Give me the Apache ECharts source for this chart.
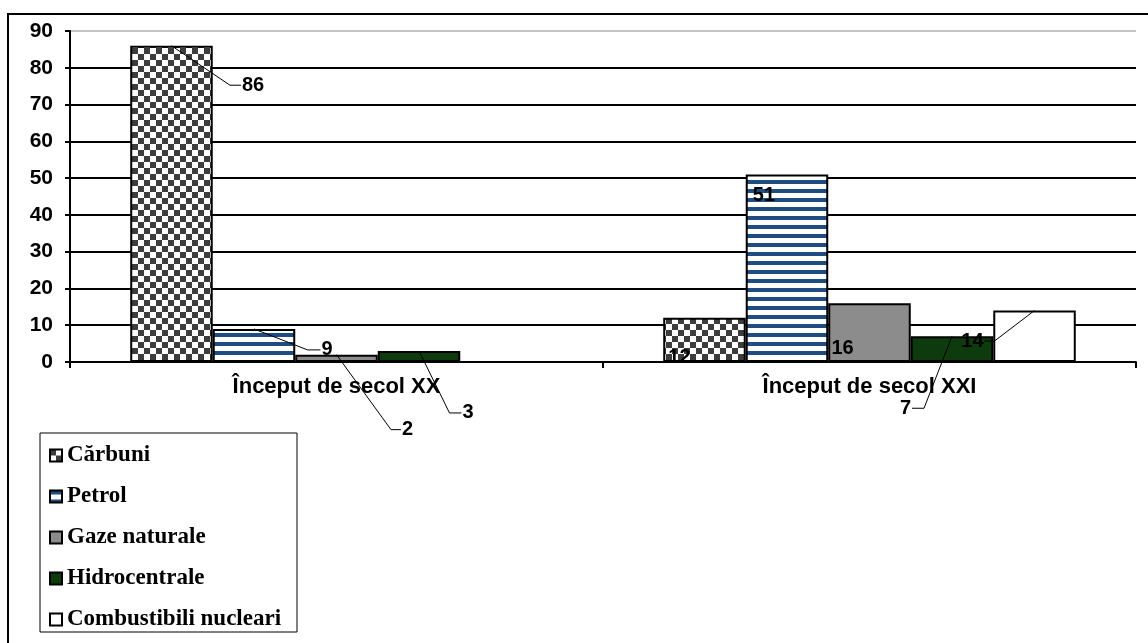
<!DOCTYPE html>
<html>
<head>
<meta charset="utf-8">
<script src="https://cdn.jsdelivr.net/npm/echarts@6/dist/echarts.min.js"></script>
<style>
  html, body { margin: 0; padding: 0; background: #fff; }
  #chart { width: 1148px; height: 643px; }
</style>
</head>
<body>
<div id="chart"></div>
<script>
// Structura consumului de resurse energetice (%)
const categories = ['Început de secol XX', 'Început de secol XXI'];
const seriesNames = ['Cărbuni', 'Petrol', 'Gaze naturale', 'Hidrocentrale', 'Combustibili nucleari'];
const carbuni = [86, 12];
const petrol = [9, 51];
const gaze = [2, 16];
const hidro = [3, 7];
const nuclear = [0, 14];
const yMin = 0, yMax = 90, yStep = 10;

// Where each value label sits, relative to the top centre of its bar.
// lead: length of the horizontal stub of the leader line (0 = no leader).
const labelPlacement = [
  [{ dx: 69.5, dy: 39.5, lead: 11, align: 'left' }, { dx: -25, dy: 40, lead: 0 }],
  [{ dx: 66.5, dy: 21, lead: 13, align: 'left' }, { dx: -23, dy: 21, lead: 0 }],
  [{ dx: 64.5, dy: 75, lead: 10, align: 'left' }, { dx: -27, dy: 45, lead: 0 }],
  [{ dx: 42.5, dy: 62, lead: 12, align: 'left' }, { dx: -40, dy: 72, lead: 12, align: 'right' }],
  [null, { dx: -50, dy: 30.5, lead: 10, align: 'right' }]
];

const values = [carbuni, petrol, gaze, hidro, nuclear];
const CATEGORY_GAP = 0.226;

function makeChecker() {
  const c = document.createElement('canvas');
  c.width = 12; c.height = 12;
  const g = c.getContext('2d');
  g.fillStyle = '#ffffff'; g.fillRect(0, 0, 12, 12);
  g.fillStyle = '#3d3d3d';
  g.fillRect(0, 0, 6, 6);
  g.fillRect(6, 6, 6, 6);
  return c;
}
function makeStripes() {
  const c = document.createElement('canvas');
  c.width = 8; c.height = 9;
  const g = c.getContext('2d');
  g.fillStyle = '#ffffff'; g.fillRect(0, 0, 8, 9);
  g.fillStyle = '#1f4d80';
  g.fillRect(0, 0, 8, 4);
  return c;
}

const fills = [
  { image: makeChecker(), repeat: 'repeat' },
  { image: makeStripes(), repeat: 'repeat' },
  '#8c8c8c',
  '#0e3b0e',
  '#ffffff'
];

const barSeries = seriesNames.map((name, i) => ({
  name: name,
  type: 'bar',
  data: values[i],
  barGap: '0%',
  barCategoryGap: (CATEGORY_GAP * 100) + '%',
  itemStyle: { color: fills[i], borderColor: '#000', borderWidth: 2 },
  emphasis: { disabled: true },
  z: 2
}));

// one entry per visible value label: [category, value, series]
const labelData = [];
values.forEach((arr, s) => {
  arr.forEach((v, c) => {
    if (labelPlacement[s][c]) labelData.push([c, v, s]);
  });
});

const labelFont = 'bold 20px "Liberation Sans", Arial, sans-serif';

const labelSeries = {
  type: 'custom',
  silent: true,
  z: 10,
  data: labelData,
  renderItem: function (params, api) {
    const c = api.value(0), v = api.value(1), s = api.value(2);
    const spec = labelPlacement[s][c];
    const band = api.size([1, 0])[0];
    const groupW = band * (1 - CATEGORY_GAP);
    const barW = groupW / seriesNames.length;
    const cx = api.coord([c, 0])[0];
    const x = cx - groupW / 2 + (s + 0.5) * barW;
    const y = api.coord([c, v])[1];
    const ex = x + spec.dx, ey = y + spec.dy;
    const children = [];
    if (spec.lead) {
      const dir = spec.align === 'right' ? -1 : 1;
      children.push({
        type: 'polyline',
        shape: { points: [[x, y], [ex - dir * spec.lead, ey], [ex, ey]] },
        style: { stroke: '#000', lineWidth: 1, fill: null }
      });
      children.push({
        type: 'text',
        style: {
          x: ex + dir * 1, y: ey, text: String(v), font: labelFont, fill: '#000',
          align: spec.align, verticalAlign: 'middle'
        }
      });
    } else {
      children.push({
        type: 'text',
        style: {
          x: ex, y: ey, text: String(v), font: labelFont, fill: '#000',
          align: 'center', verticalAlign: 'middle'
        }
      });
    }
    return { type: 'group', children: children };
  }
};

const splitColors = [];
for (let t = yMin; t <= yMax; t += yStep) splitColors.push(t === yMax ? '#c4c4c4' : '#000');

const chart = echarts.init(document.getElementById('chart'), null, { renderer: 'canvas' });
chart.setOption({
  animation: false,
  backgroundColor: '#fff',
  grid: { left: 70, right: 12, top: 31, bottom: 281, outerBoundsMode: 'none' },
  legend: {
    orient: 'vertical',
    left: 49,
    top: 444,
    padding: 0,
    itemGap: 18,
    itemWidth: 12,
    itemHeight: 12,
    icon: 'rect',
    selectedMode: false,
    itemStyle: { borderColor: '#000', borderWidth: 2 },
    textStyle: {
      fontFamily: '"Liberation Serif", "Times New Roman", serif',
      fontWeight: 'bold',
      fontSize: 23,
      color: '#000',
      padding: [0, 0, 0, 0]
    },
    data: seriesNames
  },
  xAxis: {
    type: 'category',
    data: categories,
    axisLine: { lineStyle: { color: '#000', width: 2 } },
    axisTick: { show: true, length: 6, interval: 0, alignWithLabel: false, lineStyle: { color: '#000', width: 2 } },
    axisLabel: {
      margin: 14,
      color: '#000',
      fontFamily: '"Liberation Sans", Arial, sans-serif',
      fontWeight: 'bold',
      fontSize: 22
    },
    splitLine: { show: false }
  },
  yAxis: {
    type: 'value',
    min: yMin,
    max: yMax,
    interval: yStep,
    axisLine: { show: true, lineStyle: { color: '#000', width: 2 } },
    axisTick: { show: true, length: 5, lineStyle: { color: '#000', width: 2 } },
    axisLabel: {
      margin: 17,
      color: '#000',
      fontFamily: '"Liberation Sans", Arial, sans-serif',
      fontWeight: 'bold',
      fontSize: 21
    },
    splitLine: { show: true, lineStyle: { color: splitColors, width: 2 } }
  },
  graphic: [
    {
      type: 'rect', silent: true, z: 0,
      shape: { x: 8, y: 14, width: 1200, height: 700 },
      style: { fill: null, stroke: '#000', lineWidth: 2 }
    },
    {
      type: 'rect', silent: true, z: 0,
      shape: { x: 40, y: 433, width: 257, height: 199 },
      style: { fill: null, stroke: '#000', lineWidth: 1 }
    }
  ],
  series: barSeries.concat([labelSeries])
});
</script>
</body>
</html>
